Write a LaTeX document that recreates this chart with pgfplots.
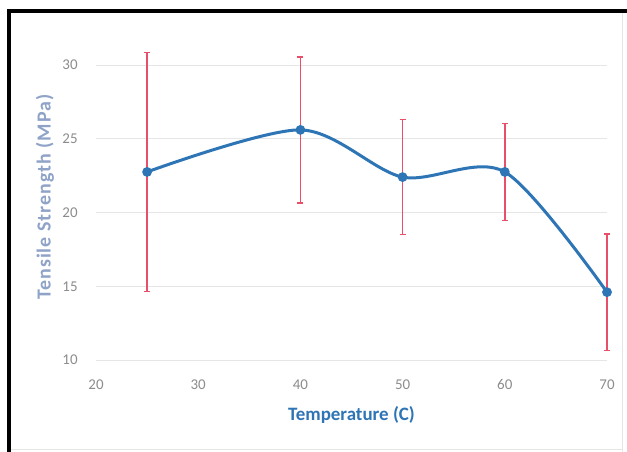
\documentclass[border=0pt]{standalone}
\usepackage{pgfplots}
\pgfplotsset{compat=1.18}
\usepackage{fontspec}
\setmainfont{Carlito}
\definecolor{lineblue}{HTML}{2E75B6}
\definecolor{errred}{HTML}{E8506A}
\definecolor{ticklab}{HTML}{8C8C8C}
\definecolor{ylab}{HTML}{8FA3C8}
\definecolor{xlab}{HTML}{2E75B6}
\definecolor{gridgray}{HTML}{E6E6E6}
\begin{document}
\begin{tikzpicture}[x=1bp,y=1bp]
\path[use as bounding box] (0,0) rectangle (627,452);
\fill[white] (0,0) rectangle (627,452);
\draw[gray!20, line width=1bp] (622,0) -- (622,441);
\draw[gray!20, line width=1bp] (9,2) -- (622,2);
\draw[black, line width=4bp] (9,0) -- (9,441) -- (627,441);
\begin{axis}[
  at={(96bp,92bp)}, anchor=south west,
  scale only axis, width=511bp, height=295bp,
  xmin=20, xmax=70, ymin=10, ymax=30,
  xtick={20,30,40,50,60,70}, ytick={10,15,20,25,30},
  axis line style={draw=none},
  tick style={draw=none},
  xmajorgrids=false,
  ymajorgrids=true, grid style={draw=gridgray, line width=0.9bp},
  clip=false,
  /pgf/number format/assume math mode=true,
  tick label style={font=\fontsize{15}{17}\selectfont, text=ticklab},
  xticklabel style={anchor=center, yshift=-25bp},
  yticklabel style={anchor=center, xshift=-26bp},
  xlabel={\textbf{Temperature (C)}},
  ylabel={\textbf{\addfontfeatures{LetterSpace=5}Tensile Strength (MPa)}},
  every axis x label/.style={at={(rel axis cs:0.5,-0.1864)}, anchor=center},
  every axis y label/.style={at={(rel axis cs:-0.0998,0.554)}, anchor=center, rotate=90},
  xlabel style={font=\fontsize{19}{22}\selectfont, text=xlab},
  ylabel style={font=\fontsize{20}{23}\selectfont, text=ylab},
]
\addplot[lineblue, line width=3bp, smooth, tension=0.5, mark=*, mark size=3.3bp, mark options={fill=lineblue, draw=lineblue}]
  coordinates {(25,22.75) (40,25.6) (50,22.4) (60,22.75) (70,14.6)};
\addplot[draw=none, mark=none, forget plot,
  error bars/.cd, y dir=both, y explicit,
  error bar style={draw=errred, line width=1.4bp},
  error mark options={draw=errred, rotate=90, mark size=3bp, line width=1.4bp}]
  coordinates {(25,22.75) +- (0,8.1) (40,25.6) +- (0,4.95) (50,22.4) +- (0,3.9) (60,22.75) +- (0,3.3) (70,14.6) +- (0,3.95)};
\end{axis}
\end{tikzpicture}
\end{document}
